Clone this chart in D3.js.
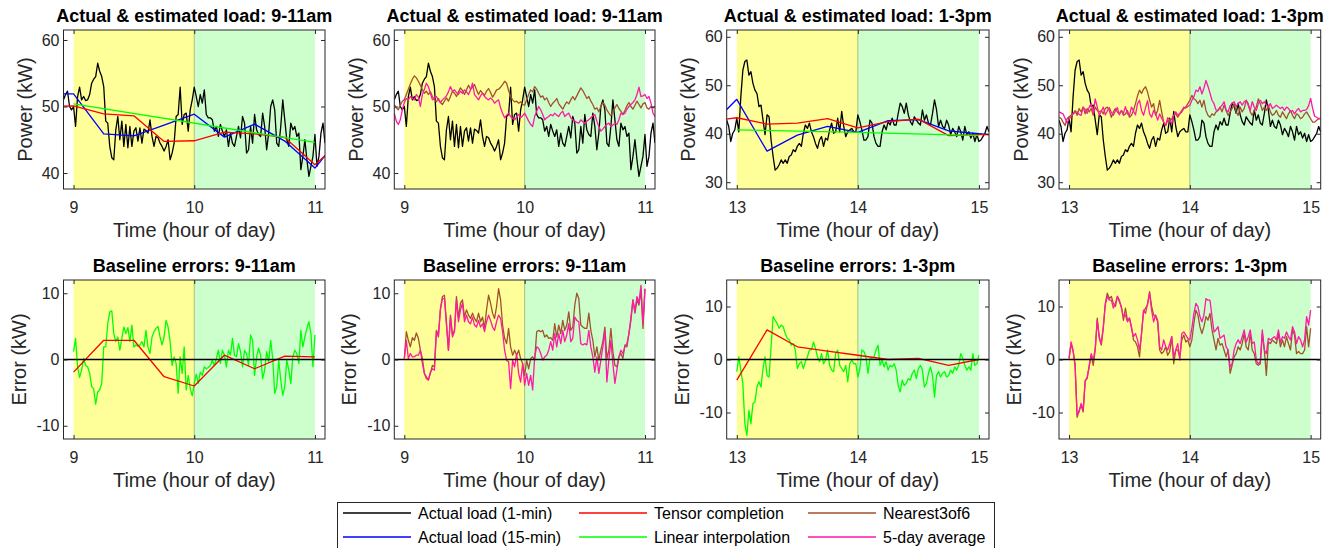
<!DOCTYPE html>
<html>
<head>
<meta charset="UTF-8">
<title>Actual &amp; estimated load, baseline errors</title>
<script src="https://d3js.org/d3.v7.min.js"></script>
<style>
  body { margin: 0; background: #fff; }
  svg { font-family: "Liberation Sans", Arial, Helvetica, sans-serif; }
  .tick text { font-family: "Liberation Sans", Arial, Helvetica, sans-serif; font-size: 16px; fill: #262626; }
  .tick line { stroke: #262626; }
  .title { font-size: 18px; font-weight: bold; fill: #000; }
  .axis-label { font-size: 20px; fill: #262626; }
  .legend text { font-size: 16px; fill: #000; }
</style>
</head>
<body>
<svg width="1339" height="548"></svg>
<script>
// 1-min actual load, 8:55 - 11:05
const loadAm = [
  51.0, 51.8, 52.3, 50.0, 49.5, 50.0, 47.0, 51.5, 52.9, 51.0,
  51.5, 50.9, 51.0, 51.8, 53.5, 54.1, 54.5, 56.5, 55.3, 54.5,
  53.0, 47.8, 47.5, 44.0, 42.3, 42.0, 46.5, 48.5, 45.0, 47.8,
  44.0, 47.3, 43.8, 47.0, 44.0, 46.3, 46.8, 44.8, 46.8, 44.5,
  46.6, 46.4, 46.0, 48.0, 45.5, 44.0, 45.5, 45.3, 44.5, 44.0,
  43.3, 44.0, 45.0, 42.0, 43.0, 44.5, 48.5, 48.8, 52.9, 47.3,
  48.8, 49.0, 46.3, 49.5, 51.0, 52.9, 51.5, 50.0, 51.8, 50.5,
  52.5, 48.8, 48.3, 48.3, 48.0, 46.3, 47.0, 45.5, 47.3, 46.3,
  45.5, 46.5, 44.0, 46.0, 44.5, 44.0, 45.5, 47.0, 45.3, 48.5,
  47.5, 43.0, 43.5, 47.0, 44.5, 48.8, 46.5, 45.8, 45.5, 49.0,
  47.0, 43.5, 46.0, 50.0, 51.0, 49.5, 44.5, 44.0, 47.0, 51.0,
  48.0, 45.0, 44.0, 47.5, 46.5, 47.0, 45.5, 46.0, 40.5, 42.5,
  45.0, 42.0, 39.5, 41.0, 42.5, 45.8, 41.0, 42.5, 46.0, 47.5,
  44.5
];
// 1-min actual load, 12:55 - 15:05
const loadPm = [
  42.8, 41.5, 38.4, 40.1, 40.8, 43.2, 40.4, 47.6, 53.1, 54.9,
  55.2, 52.1, 52.8, 50.4, 49.0, 48.3, 45.6, 45.9, 42.8, 39.8,
  43.9, 43.5, 38.7, 35.3, 32.5, 32.9, 33.6, 34.6, 33.9, 34.6,
  33.9, 35.3, 35.6, 36.7, 36.3, 37.4, 38.0, 37.4, 40.1, 41.8,
  41.1, 42.2, 40.4, 39.4, 38.0, 37.0, 38.7, 39.4, 37.4, 39.1,
  38.7, 40.8, 42.2, 40.1, 40.4, 43.2, 40.4, 44.6, 41.5, 39.4,
  40.4, 40.8, 41.1, 40.4, 40.4, 43.9, 42.5, 40.8, 38.7, 38.7,
  39.4, 42.8, 42.2, 39.4, 38.0, 37.4, 37.4, 40.4, 41.8, 40.8,
  42.5, 41.8, 43.2, 41.8, 41.8, 44.2, 46.3, 45.6, 44.2, 46.3,
  43.9, 42.5, 41.8, 43.5, 42.8, 42.2, 41.8, 44.9, 42.8, 43.9,
  42.2, 41.8, 44.2, 47.0, 44.9, 41.5, 42.8, 41.5, 41.1, 42.8,
  41.8, 39.8, 41.1, 40.4, 39.4, 41.5, 40.4, 38.7, 41.5, 39.8,
  40.4, 39.1, 40.1, 38.4, 39.8, 38.4, 38.7, 39.4, 40.1, 41.5,
  40.4
];

// Nearest3of6 and 5-day average baselines, same 1-min grids
const nearestAm = [
  50.3, 49.8, 49.5, 50.2, 50.8, 51.0, 51.8, 52.6, 53.4, 54.1,
  54.6, 54.3, 53.8, 53.2, 52.5, 52.0, 52.3, 51.8, 52.2, 51.5,
  51.0, 50.7, 51.2, 50.6, 50.3, 50.8, 51.3, 50.8, 51.5, 52.3,
  52.0, 51.5, 52.2, 52.8, 52.4, 51.8, 52.5, 53.2, 52.6, 52.9,
  53.3, 52.5, 51.8, 52.4, 52.0, 51.7, 52.3, 52.7, 52.1, 51.4,
  51.9, 52.5, 52.6, 52.9, 53.3, 53.8, 53.5, 52.4, 51.5, 51.0,
  50.7, 50.8, 50.5, 50.7, 50.3, 50.2, 51.0, 51.8, 52.5, 52.2,
  53.0, 52.6, 52.0, 51.4, 51.6, 51.0, 51.3, 50.6, 50.0, 50.5,
  50.8, 51.2, 50.4, 50.0, 49.6, 50.2, 50.7, 50.4, 51.0, 51.5,
  51.0, 51.6, 52.2, 52.8, 52.4, 51.8, 51.2, 51.5, 50.8, 50.3,
  49.6, 49.8, 49.2, 50.0, 50.6, 50.2, 49.5, 49.0, 48.6, 49.2,
  49.8, 50.3, 49.7, 49.3, 48.8, 49.4, 50.1, 50.6, 50.0, 49.6,
  50.2, 50.8, 50.3, 49.8, 50.4, 50.6, 49.8, 49.6, 50.0, 49.8,
  50.0
];
const avgAm = [
  49.0, 47.8, 47.3, 48.0, 49.5, 50.6, 51.2, 51.0, 51.5, 51.2,
  51.0, 51.8, 51.4, 50.0, 51.8, 52.6, 53.5, 53.0, 52.0, 51.0,
  51.3, 51.5, 51.0, 50.6, 51.0, 51.3, 51.6, 52.2, 53.0, 52.3,
  52.5, 52.1, 51.8, 52.3, 52.0, 52.5, 52.2, 51.8, 52.5, 53.5,
  51.8, 51.4, 51.0, 51.6, 52.0, 51.5, 51.2, 51.0, 51.3, 51.0,
  50.5, 50.8, 51.0, 49.8, 49.0, 48.3, 48.7, 49.0, 48.5, 48.2,
  48.0, 48.4, 48.8, 48.3, 48.6, 49.0, 48.4, 47.8, 47.3, 47.0,
  48.5, 49.3, 50.0, 49.5, 48.8, 48.0, 48.3, 48.5, 48.8, 48.6,
  49.0, 48.7, 48.5, 49.0, 49.3, 48.5, 48.8, 49.0, 48.3, 48.0,
  47.8, 47.6, 47.5, 48.0, 47.7, 47.5, 47.8, 48.0, 48.3, 48.6,
  48.8, 47.8, 47.0, 46.3, 46.6, 47.0, 47.3, 47.5, 47.0, 47.2,
  47.5, 47.3, 48.0, 49.0, 48.8, 49.0, 49.6, 50.0, 50.3, 50.6,
  51.0, 51.8, 52.9, 51.5, 51.6, 51.8, 51.2, 51.5, 50.5, 49.0,
  48.5
];
const nearestPm = [
  43.4, 43.2, 42.4, 41.7, 43.1, 43.5, 43.8, 44.1, 44.8, 43.8,
  45.2, 44.5, 45.5, 44.1, 45.2, 44.5, 45.2, 43.8, 45.5, 44.8,
  44.5, 44.8, 44.1, 45.2, 45.5, 44.8, 43.4, 44.5, 45.2, 44.5,
  44.1, 44.8, 43.8, 44.1, 44.8, 43.4, 43.8, 44.8, 46.2, 47.8,
  49.0, 48.3, 49.2, 49.7, 48.6, 46.9, 45.5, 46.2, 43.8, 44.8,
  46.9, 44.5, 42.4, 41.7, 42.8, 42.4, 43.1, 43.8, 44.1, 43.4,
  44.1, 44.5, 45.2, 45.5, 46.2, 46.9, 47.9, 47.2, 46.9, 46.2,
  46.9, 45.5, 46.9, 44.8, 43.8, 43.4, 44.1, 43.8, 44.5, 44.8,
  45.5, 44.5, 45.9, 44.8, 43.8, 44.5, 45.2, 46.2, 44.5, 43.8,
  45.5, 44.5, 45.2, 46.9, 46.2, 44.5, 43.8, 44.8, 45.5, 47.2,
  46.2, 44.8, 45.5, 44.8, 45.9, 44.5, 43.8, 44.1, 44.8, 43.8,
  43.4, 44.5, 43.8, 43.1, 44.1, 44.8, 43.8, 43.1, 44.1, 43.8,
  43.1, 43.4, 44.1, 44.5, 43.8, 43.1, 42.4, 42.4, 42.8, 43.1,
  43.2
];
const avgPm = [
  44.5, 44.3, 44.1, 43.2, 42.2, 43.0, 43.6, 44.1, 44.4, 44.5,
  44.0, 43.8, 45.5, 45.0, 44.2, 45.5, 46.2, 44.3, 47.2, 45.5,
  43.8, 44.6, 45.5, 43.9, 44.7, 45.4, 44.4, 43.8, 44.7, 45.4,
  43.9, 44.8, 44.2, 45.6, 44.1, 43.8, 45.5, 44.7, 43.9, 46.2,
  46.9, 44.8, 43.8, 45.4, 46.8, 44.1, 43.4, 44.8, 44.1, 42.8,
  44.1, 43.2, 42.4, 41.7, 43.3, 42.8, 42.1, 43.8, 44.5, 43.8,
  44.2, 44.8, 45.5, 45.3, 45.6, 45.9, 46.9, 47.6, 49.0, 48.7,
  49.7, 48.2, 49.4, 51.0, 49.8, 48.4, 46.9, 46.2, 44.9, 44.8,
  45.4, 45.9, 46.6, 44.9, 44.5, 45.8, 46.3, 46.6, 45.6, 46.2,
  46.6, 45.9, 46.6, 46.9, 45.8, 44.8, 46.6, 45.5, 44.8, 46.2,
  46.9, 46.2, 46.6, 45.9, 45.5, 46.2, 45.2, 45.5, 45.9, 45.5,
  45.2, 45.5, 44.8, 45.5, 45.2, 44.5, 44.8, 44.1, 44.8, 45.2,
  44.5, 44.8, 44.8, 45.0, 45.8, 47.3, 45.2, 43.6, 43.4, 43.1,
  43.0
];

// 15-min actual load and tensor completion
const quarterAm = [8.75, 9, 9.25, 9.5, 9.75, 10, 10.25, 10.5, 10.75, 11, 11.25];
const quarterPm = [12.75, 13, 13.25, 13.5, 13.75, 14, 14.25, 14.5, 14.75, 15, 15.25];
const load15Am = [51.9, 51.9, 45.9, 45.6, 47.2, 48.85, 45.4, 47.35, 44.8, 40.75, 46.3];
const tensorAm = [50.0, 50.1, 48.9, 48.6, 44.75, 44.85, 46.15, 45.9, 45.35, 41.25, 45.3];
const load15Pm = [40.8, 47.1, 36.4, 39.7, 41.5, 40.3, 42.7, 42.9, 40.6, 40.0, 39.5];
const tensorPm = [42.5, 43.3, 42.0, 42.2, 43.1, 41.2, 42.5, 43.0, 39.6, 39.8, 39.8];

// linear interpolation baseline
const linTimesAm = [9, 11];
const linearAm = [50.4, 44.6];
const linTimesPm = [13, 14, 15];
const linearPm = [40.8, 40.3, 39.6];

// baseline errors, 1-min, 9:00 - 11:00 and 13:00 - 15:00
const errLinearAm = [
  1.2, 3.2, -1.1, -2.7, -1.6, 0.15, -0.9, -1.1, -2.1, -4.1,
  -4.4, -6.75, -4.9, -4.6, -3.6, 1.9, 1.9, 5.4, 7.2, 7.35,
  3.9, 2.7, 3.4, 1.4, 3.2, 4.9, 3.9, 4.8, 2.7, 5.2,
  1.9, 2.2, 2.0, 2.2, 2.7, 1.9, 4.4, 1.9, 0.9, 3.4,
  4.2, 4.7, 5.0, 3.4, 2.2, 3.4, 5.9, 4.9, 2.7, -0.9,
  0.4, -0.6, -5.1, 0.4, -2.1, 1.9, -4.6, -2.4, -4.4, -5.5,
  -3.6, -2.2, -3.6, -1.9, -2.4, -1.1, -1.4, -1.2, -0.9, -0.1,
  -0.9, 0.15, 1.4, -0.6, 1.4, 0.65, -1.1, 1.4, 0.65, 3.2,
  0.65, 0.4, 2.4, 1.2, -1.1, 1.4, 0.9, -0.9, 3.7, 2.9,
  -2.4, 0.4, 1.7, 0.65, -2.9, -1.6, 1.2, -0.35, 2.9, 0.15,
  -5.1, -4.1, -0.1, -3.1, -5.4, -4.1, -0.1, -1.6, -3.6, 0.4,
  1.4, 0.9, -0.6, 4.4, 1.9, 3.4, 4.7, 5.7, 3.9, -1.1,
  3.7
];
const errNearestAm = [
  0.15, 4.2, 2.9, 1.9, 3.3, 2.9, 4.0, 3.2, 1.4, 0.15,
  -2.1, -2.6, -3.1, -2.1, -0.9, -1.1, 4.4, 3.7, 7.7, 9.5,
  9.7, 5.7, 1.4, 6.7, 3.7, 4.4, 9.5, 6.2, 8.5, 9.0,
  6.4, 7.5, 6.7, 6.2, 7.0, 6.2, 5.7, 7.0, 5.7, 6.4,
  4.7, 7.5, 9.7, 8.5, 7.0, 6.2, 8.0, 10.7, 9.0, 5.2,
  3.2, 2.4, 4.7, 1.9, 0.65, 1.4, 0.65, 1.4, 0.15, -0.6,
  -2.4, -0.1, -1.4, 0.15, 0.4, -0.1, 4.2, 4.4, 4.2, 4.4,
  3.4, 3.7, 3.2, 3.3, 2.9, 5.4, 3.4, 5.2, 3.9, 5.9,
  4.4, 5.2, 7.2, 4.4, 4.9, 8.2, 10.0, 9.2, 5.2, 4.9,
  4.7, 4.7, 7.0, 4.4, 2.9, 0.4, 1.9, -0.1, 1.4, 2.7,
  4.9, 0.15, 1.4, 4.7, 1.2, -0.9, -1.1, 0.4, 0.9, 0.15,
  2.2, 1.9, 3.9, 5.9, 9.0, 7.0, 9.0, 8.2, 10.5, 4.7,
  10.7
];
const errAvgAm = [
  0.15, 2.9, 0.15, 0.9, 0.4, 0.4, 0.65, 0.65, 1.4, -0.6,
  -2.1, -2.9, -3.1, -1.9, -1.4, -1.6, 4.2, 3.4, 7.5, 9.2,
  9.2, 5.2, 1.4, 6.4, 3.4, 4.2, 9.0, 5.7, 7.5, 8.5,
  5.7, 6.7, 5.7, 5.4, 6.4, 5.2, 4.9, 5.9, 4.9, 5.4,
  4.2, 5.7, 6.7, 5.9, 4.9, 4.4, 5.7, 6.7, 6.2, 4.2,
  1.4, -0.1, -0.35, -4.4, -0.1, -1.1, 0.9, -2.1, -3.4, -0.6,
  -3.9, -2.1, -3.9, -2.4, -4.6, 0.4, 1.9, 1.7, 0.9, -0.1,
  0.4, 0.65, 1.4, 2.7, 1.4, 3.9, 1.9, 3.9, 2.4, 4.4,
  2.7, 3.7, 5.4, 2.7, 3.2, 6.4, 5.9, 5.7, 2.4, 2.2,
  2.4, 2.2, 4.4, 1.9, 0.4, -1.9, 0.4, -2.1, -0.1, 1.9,
  4.4, -3.4, -0.1, 2.9, -0.6, -3.6, -1.6, 0.4, 1.4, 0.9,
  1.9, 2.4, 3.9, 6.4, 9.0, 7.2, 9.5, 8.5, 11.2, 5.4,
  10.6
];
const errLinearPm = [
  -2.3, 0.5, -2.0, -4.5, -12.1, -14.3, -9.6, -12.1, -8.3, -8.0,
  -5.2, -4.2, -5.2, -1.7, 0.5, -3.0, -3.3, 2.4, 8.1, 7.4,
  6.8, 5.9, 6.5, 6.2, 4.9, 4.0, 3.7, 2.7, 3.0, 1.8,
  -1.7, -0.8, -0.4, -1.7, -0.4, 0.5, 1.8, 1.8, 3.3, 2.1,
  0.5, -0.4, 1.1, -0.8, -0.1, 1.8, -1.1, -2.0, -2.3, 1.1,
  1.8, -1.1, -1.7, -2.3, -1.1, -4.2, -0.8, -0.1, -0.8, -0.8,
  -3.3, -1.7, 1.8, 1.5, 0.5, -2.6, 0.2, 0.2, 0.5, 1.8,
  2.7, -1.1, -0.1, -1.4, -0.4, -2.0, -1.1, -1.4, -0.8, -2.0,
  -4.9, -6.1, -3.9, -4.9, -4.5, -3.6, -3.9, -2.6, -2.0, -3.6,
  -1.7, -1.1, -2.0, -5.2, -4.5, -2.6, -1.4, -3.0, -7.1, -3.0,
  -2.3, -3.3, -2.6, -2.3, -3.3, -3.0, -2.0, -2.6, -1.4, -2.0,
  -1.1, 1.1, 0.2, -1.1, -2.0, -1.4, -2.0, 1.1, -1.1, -0.8,
  0.8
];
const errNearestPm = [
  0.2, 3.0, 1.5, -0.8, -10.9, -9.6, -8.6, -9.9, -4.2, -3.3,
  -1.4, 0.8, -1.1, 1.8, 7.8, 4.0, 2.7, 5.9, 10.6, 12.5,
  11.5, 11.9, 10.6, 10.0, 11.9, 10.9, 10.0, 7.4, 9.7, 7.4,
  7.8, 6.2, 3.7, 3.3, 2.4, 0.5, 4.9, 9.0, 9.7, 10.3,
  12.8, 10.0, 8.4, 8.1, 7.1, 1.8, 1.1, 1.5, 2.4, 0.8,
  1.5, 4.3, -0.8, 1.8, 1.8, 0.5, 3.7, 4.6, 3.3, 3.7,
  2.4, 3.7, 6.8, 9.3, 8.4, 6.2, 4.9, 6.2, 8.1, 7.4,
  8.7, 5.6, 3.7, 1.8, 4.0, 2.7, 3.0, 1.8, 0.5, 1.8,
  -2.6, -1.1, 0.5, 1.1, 2.4, 1.8, 3.0, 4.9, 2.4, 1.8,
  4.9, 1.8, 1.1, -0.8, -1.1, -0.8, 4.9, 1.8, -3.0, 3.3,
  3.0, 3.7, 3.3, 3.0, 4.9, 2.4, 3.7, 2.4, 4.3, 3.0,
  1.8, 5.6, 4.6, 1.1, 1.5, 1.1, 1.1, 1.8, 6.2, 2.4,
  5.9
];
const errAvgPm = [
  0.2, 3.3, 1.8, -1.4, -10.5, -9.9, -8.3, -9.6, -3.9, -3.6,
  -1.1, 1.1, -0.1, 2.1, 7.4, 4.3, 3.0, 6.2, 10.3, 11.9,
  11.2, 11.2, 9.7, 10.6, 11.9, 11.2, 9.7, 8.1, 8.4, 7.1,
  7.8, 5.9, 4.3, 4.9, 3.7, 1.8, 4.9, 9.3, 8.7, 10.6,
  12.5, 9.3, 7.1, 8.4, 7.4, 2.4, 1.8, 3.7, 2.4, 1.8,
  3.0, 4.3, 0.5, 1.8, 3.0, -0.1, 4.9, 5.2, 4.6, 4.0,
  3.7, 5.9, 8.7, 10.6, 10.0, 8.1, 7.1, 8.4, 11.5, 11.2,
  11.2, 8.1, 5.2, 5.6, 6.2, 4.0, 4.3, 4.6, 2.4, 1.8,
  -1.4, -0.8, 1.8, 3.0, 3.7, 3.0, 4.3, 5.6, 3.3, 4.3,
  5.6, 3.0, 3.3, -0.1, -0.8, -0.4, 5.6, 1.8, 1.1, 4.0,
  3.7, 4.0, 4.3, 3.7, 5.6, 3.3, 4.3, 4.0, 5.2, 4.3,
  3.7, 6.2, 5.2, 3.0, 4.3, 3.7, 2.4, 3.7, 8.1, 6.5,
  9.3
];
// tensor completion error at the quarter hours 9:00..11:00 / 13:00..15:00
const errTensorAm = [-1.9, 2.9, 2.9, -2.6, -4.0, 0.65, -1.4, 0.5, 0.4];
const errTensorPm = [-3.9, 5.6, 2.4, 1.6, 0.8, 0.0, 0.2, -1.1, 0.0];

const legendNames = ["Actual load (1-min)", "Actual load (15-min)", "Tensor completion",
                     "Linear interpolation", "Nearest3of6", "5-day average"];

const C = {
  actual: "#000000", actual15: "#0000ff", tensor: "#ff0000",
  linear: "#00ff00", nearest: "#a0522d", avg: "#ff19a6"
};
const legendColors = [C.actual, C.actual15, C.tensor, C.linear, C.nearest, C.avg];

// time grids
const minAm = d3.range(loadAm.length).map(i => 8 + 55 / 60 + i / 60);
const minPm = d3.range(loadPm.length).map(i => 12 + 55 / 60 + i / 60);
const errMinAm = d3.range(errLinearAm.length).map(i => 9 + i / 60);
const errMinPm = d3.range(errLinearPm.length).map(i => 13 + i / 60);
const domAm = [minAm[0], minAm[minAm.length - 1]];
const domPm = [minPm[0], minPm[minPm.length - 1]];

const svg = d3.select("svg");
const cols = [[63.5, 325], [394.3, 655], [726.7, 989], [1059, 1320.7]];
const rows = [[30, 189], [280, 439]];

const panels = [
  { col: 0, row: 0, title: "Actual & estimated load: 9-11am", xd: domAm, xt: [9, 10, 11], yd: [37.6, 61.5], yt: [40, 50, 60], ylab: "Power (kW)",
    series: [[minAm, loadAm, C.actual], [quarterAm, load15Am, C.actual15], [quarterAm, tensorAm, C.tensor], [linTimesAm, linearAm, C.linear]] },
  { col: 1, row: 0, title: "Actual & estimated load: 9-11am", xd: domAm, xt: [9, 10, 11], yd: [37.6, 61.5], yt: [40, 50, 60], ylab: "Power (kW)",
    series: [[minAm, loadAm, C.actual], [minAm, nearestAm, C.nearest], [minAm, avgAm, C.avg]] },
  { col: 2, row: 0, title: "Actual & estimated load: 1-3pm", xd: domPm, xt: [13, 14, 15], yd: [28.6, 61.4], yt: [30, 40, 50, 60], ylab: "Power (kW)",
    series: [[minPm, loadPm, C.actual], [quarterPm, load15Pm, C.actual15], [quarterPm, tensorPm, C.tensor], [linTimesPm, linearPm, C.linear]] },
  { col: 3, row: 0, title: "Actual & estimated load: 1-3pm", xd: domPm, xt: [13, 14, 15], yd: [28.6, 61.4], yt: [30, 40, 50, 60], ylab: "Power (kW)",
    series: [[minPm, loadPm, C.actual], [minPm, nearestPm, C.nearest], [minPm, avgPm, C.avg]] },
  { col: 0, row: 1, title: "Baseline errors: 9-11am", xd: domAm, xt: [9, 10, 11], yd: [-12, 12], yt: [-10, 0, 10], ylab: "Error (kW)", zero: true,
    series: [[errMinAm, errLinearAm, C.linear], [quarterAm.slice(1, 10), errTensorAm, C.tensor]] },
  { col: 1, row: 1, title: "Baseline errors: 9-11am", xd: domAm, xt: [9, 10, 11], yd: [-12, 12], yt: [-10, 0, 10], ylab: "Error (kW)", zero: true,
    series: [[errMinAm, errNearestAm, C.nearest], [errMinAm, errAvgAm, C.avg]] },
  { col: 2, row: 1, title: "Baseline errors: 1-3pm", xd: domPm, xt: [13, 14, 15], yd: [-15, 15], yt: [-10, 0, 10], ylab: "Error (kW)", zero: true,
    series: [[errMinPm, errLinearPm, C.linear], [quarterPm.slice(1, 10), errTensorPm, C.tensor]] },
  { col: 3, row: 1, title: "Baseline errors: 1-3pm", xd: domPm, xt: [13, 14, 15], yd: [-15, 15], yt: [-10, 0, 10], ylab: "Error (kW)", zero: true,
    series: [[errMinPm, errNearestPm, C.nearest], [errMinPm, errAvgPm, C.avg]] }
];

const fmt = d => String(d);

panels.forEach((p, k) => {
  const [x0, x1] = cols[p.col];
  const [y0, y1] = rows[p.row];
  const x = d3.scaleLinear().domain(p.xd).range([x0, x1]);
  const y = d3.scaleLinear().domain(p.yd).range([y1, y0]);
  const g = svg.append("g");

  g.append("clipPath").attr("id", "clip" + k)
    .append("rect").attr("x", x0).attr("y", y0).attr("width", x1 - x0).attr("height", y1 - y0);
  const plot = g.append("g").attr("clip-path", `url(#clip${k})`);

  // morning / afternoon hour shading
  plot.append("rect")
    .attr("x", x(p.xt[0])).attr("y", y0)
    .attr("width", x(p.xt[1]) - x(p.xt[0])).attr("height", y1 - y0)
    .attr("fill", "#ffff99");
  plot.append("rect")
    .attr("x", x(p.xt[1])).attr("y", y0)
    .attr("width", x(p.xt[2]) - x(p.xt[1])).attr("height", y1 - y0)
    .attr("fill", "#ccffcc");
  plot.append("line")
    .attr("x1", x(p.xt[1])).attr("x2", x(p.xt[1]))
    .attr("y1", y0).attr("y2", y1)
    .attr("stroke", "#a9bf7e").attr("stroke-width", 1);

  const line = d3.line().x(d => x(d[0])).y(d => y(d[1]));
  p.series.forEach(([t, v, c]) => {
    plot.append("path")
      .datum(d3.zip(t, v))
      .attr("d", line)
      .attr("fill", "none")
      .attr("stroke", c)
      .attr("stroke-width", 1.3)
      .attr("stroke-linejoin", "round");
  });

  if (p.zero) {
    plot.append("line")
      .attr("x1", x0).attr("x2", x1)
      .attr("y1", y(0)).attr("y2", y(0))
      .attr("stroke", "#000").attr("stroke-width", 1.6);
  }

  g.append("g").attr("transform", `translate(0,${y1})`)
    .call(d3.axisBottom(x).tickValues(p.xt).tickSizeInner(-4).tickSizeOuter(0).tickPadding(12.5).tickFormat(fmt));
  g.append("g").attr("transform", `translate(0,${y0})`)
    .call(d3.axisTop(x).tickValues(p.xt).tickSizeInner(-4).tickSizeOuter(0).tickFormat(""));
  g.append("g").attr("transform", `translate(${x0},0)`)
    .call(d3.axisLeft(y).tickValues(p.yt).tickSizeInner(-4).tickSizeOuter(0).tickPadding(4).tickFormat(fmt));
  g.append("g").attr("transform", `translate(${x1},0)`)
    .call(d3.axisRight(y).tickValues(p.yt).tickSizeInner(-4).tickSizeOuter(0).tickFormat(""));
  g.selectAll(".domain").remove();

  g.append("rect")
    .attr("x", x0).attr("y", y0).attr("width", x1 - x0).attr("height", y1 - y0)
    .attr("fill", "none").attr("stroke", "#262626").attr("stroke-width", 1);

  g.append("text").attr("class", "title")
    .attr("x", (x0 + x1) / 2).attr("y", y0 - 8)
    .attr("text-anchor", "middle").text(p.title);

  g.append("text").attr("class", "axis-label")
    .attr("x", (x0 + x1) / 2).attr("y", y1 + 48)
    .attr("text-anchor", "middle").text("Time (hour of day)");

  const labX = x0 - (p.row === 0 ? 38.5 : 45);
  g.append("text").attr("class", "axis-label")
    .attr("transform", `translate(${labX},${(y0 + y1) / 2}) rotate(-90)`)
    .attr("text-anchor", "middle").attr("dy", "0.35em").text(p.ylab);
});

// legend, filled column by column
const legend = svg.append("g").attr("class", "legend");
legend.append("rect")
  .attr("x", 337.5).attr("y", 502.5).attr("width", 657).attr("height", 60)
  .attr("fill", "#fff").attr("stroke", "#262626").attr("stroke-width", 1);
const colX = [343, 579, 808];
const rowY = [513, 537];
legendNames.forEach((name, i) => {
  const lx = colX[Math.floor(i / 2)], ly = rowY[i % 2];
  legend.append("line")
    .attr("x1", lx).attr("x2", lx + 68).attr("y1", ly).attr("y2", ly)
    .attr("stroke", legendColors[i]).attr("stroke-width", 1.3);
  legend.append("text")
    .attr("x", lx + 75).attr("y", ly).attr("dy", "0.35em").text(name);
});
</script>
</body>
</html>
